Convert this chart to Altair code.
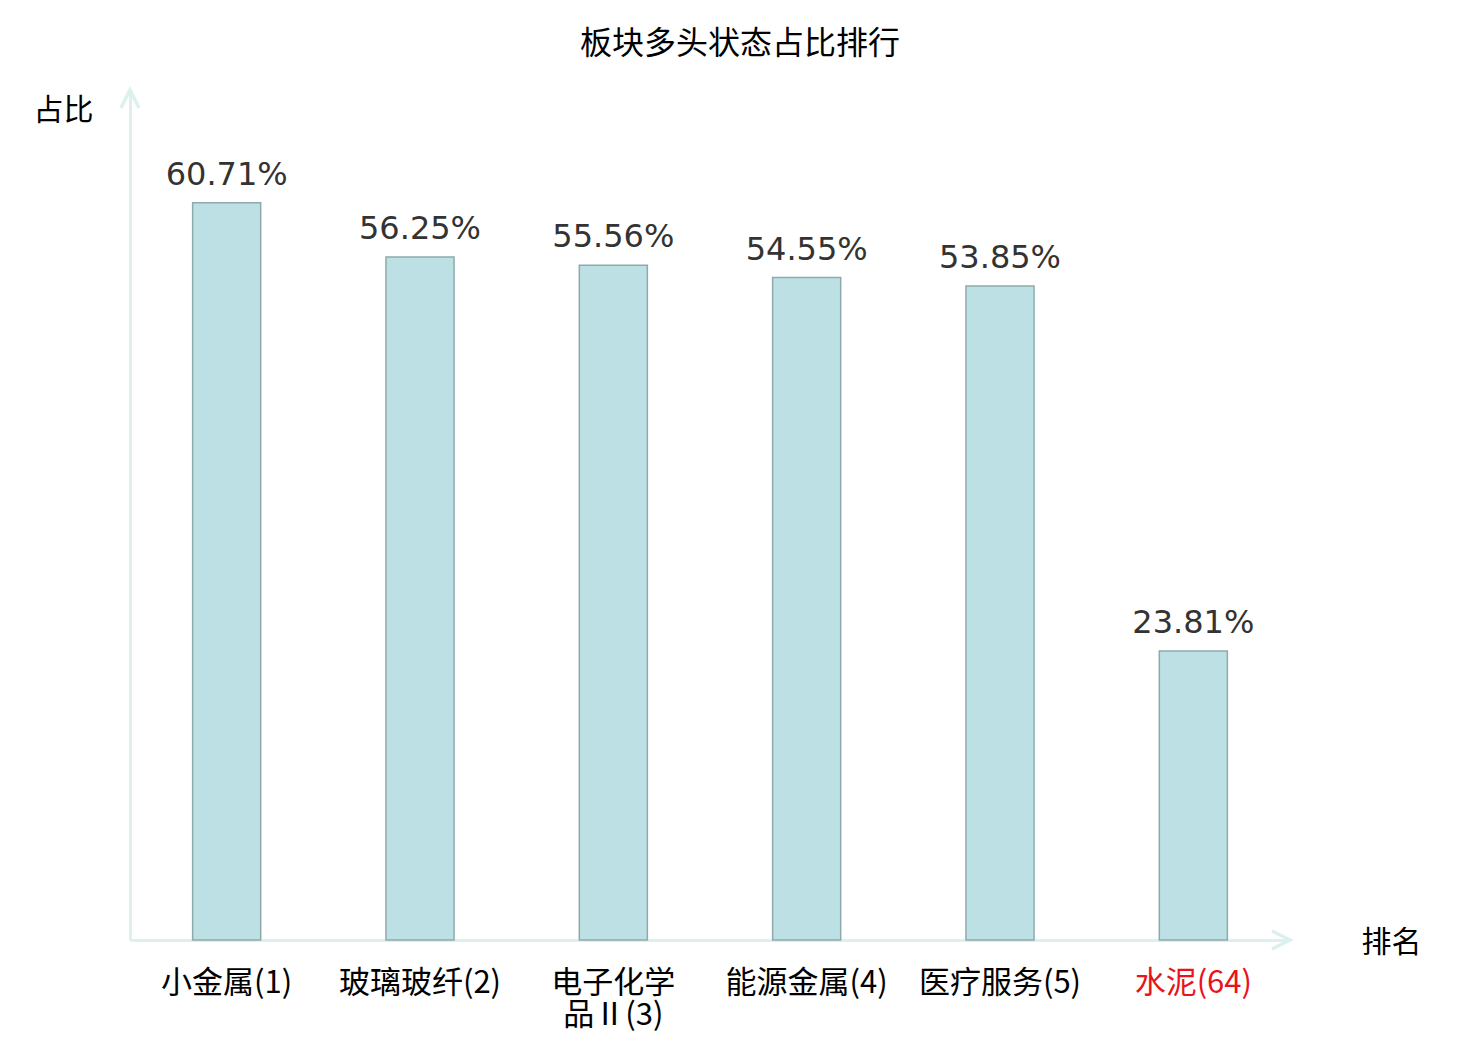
import altair as alt
import pandas as pd

categories = ["小金属(1)", "玻璃玻纤(2)", "电子化学品Ⅱ(3)", "能源金属(4)", "医疗服务(5)", "水泥(64)"]
values = [60.71, 56.25, 55.56, 54.55, 53.85, 23.81]
value_labels = ["60.71%", "56.25%", "55.56%", "54.55%", "53.85%", "23.81%"]
highlight = "水泥(64)"
wrapped = "电子化学品Ⅱ(3)"
wrapped_lines = ["电子化学", "品Ⅱ(3)"]

df = pd.DataFrame({"板块": categories, "占比": values, "标签": value_labels})
one = pd.DataFrame({"k": [0]})

W, H = 1160, 850
cjk = "Noto Sans CJK SC"
axis_color = "#dcf1ee"

x_enc = alt.X(
    "板块:N",
    sort=categories,
    scale=alt.Scale(paddingInner=0.648, paddingOuter=0.324),
    axis=alt.Axis(
        title="排名",
        titleX=1261,
        titleY=2,
        titleAlign="center",
        titleBaseline="middle",
        titleAngle=0,
        titleFont=cjk,
        titleFontSize=30,
        titleFontWeight="normal",
        titleColor="#000000",
        titleLimit=400,
        labelAngle=0,
        labelFont=cjk,
        labelFontSize=31,
        labelColor=alt.ExprRef(expr=f"datum.value == '{highlight}' ? '#e8141a' : '#000000'"),
        labelPadding=28,
        labelLineHeight=32,
        labelLimit=400,
        labelOverlap=False,
        labelExpr=f"datum.label == '{wrapped}' ? ['{wrapped_lines[0]}', '{wrapped_lines[1]}'] : datum.label",
        ticks=False,
        grid=False,
        domainColor=axis_color,
        domainWidth=3,
    ),
)

y_enc = alt.Y(
    "占比:Q",
    scale=alt.Scale(domain=[0, 70], nice=False),
    axis=alt.Axis(
        title="占比",
        titleAngle=0,
        titleX=-67,
        titleY=20,
        titleAlign="center",
        titleBaseline="middle",
        titleFont=cjk,
        titleFontSize=30,
        titleFontWeight="normal",
        titleColor="#000000",
        labels=False,
        ticks=False,
        grid=False,
        domainColor=axis_color,
        domainWidth=3,
    ),
)

base = alt.Chart(df).encode(x=x_enc, y=y_enc)

bars = base.mark_bar(fill="#bce0e3", stroke="#8eaaab", strokeWidth=1.5)
texts = base.mark_text(dy=-18, baseline="alphabetic", fontSize=32, font="DejaVu Sans", color="#333333").encode(
    text="标签:N"
)

arrow_x = alt.Chart(one).mark_point(
    shape="M-2,-1L0,0L-2,1", size=324, filled=False, stroke=axis_color, strokeWidth=3.5, opacity=1
).encode(x=alt.value(W), y=alt.value(H))
arrow_y = alt.Chart(one).mark_point(
    shape="M-1,2L0,0L1,2", size=324, filled=False, stroke=axis_color, strokeWidth=3.5, opacity=1
).encode(x=alt.value(0), y=alt.value(0))

chart = (
    alt.layer(bars, texts, arrow_x, arrow_y)
    .properties(
        width=W,
        height=H,
        autosize=alt.AutoSizeParams(type="none"),
        padding={"left": 122, "top": 82, "right": 180, "bottom": 100},
        view=alt.ViewBackground(strokeOpacity=0, strokeWidth=0),
        title=alt.TitleParams(
            "板块多头状态占比排行",
            font=cjk,
            fontSize=32,
            fontWeight="normal",
            color="#000000",
            anchor="middle",
            offset=22,
            dx=30,
        ),
    )
    .configure_view(stroke="transparent", strokeWidth=0, strokeOpacity=0)
    .configure(background="#ffffff")
)

chart.save("out.html", embed_options={"renderer": "svg", "actions": False})
